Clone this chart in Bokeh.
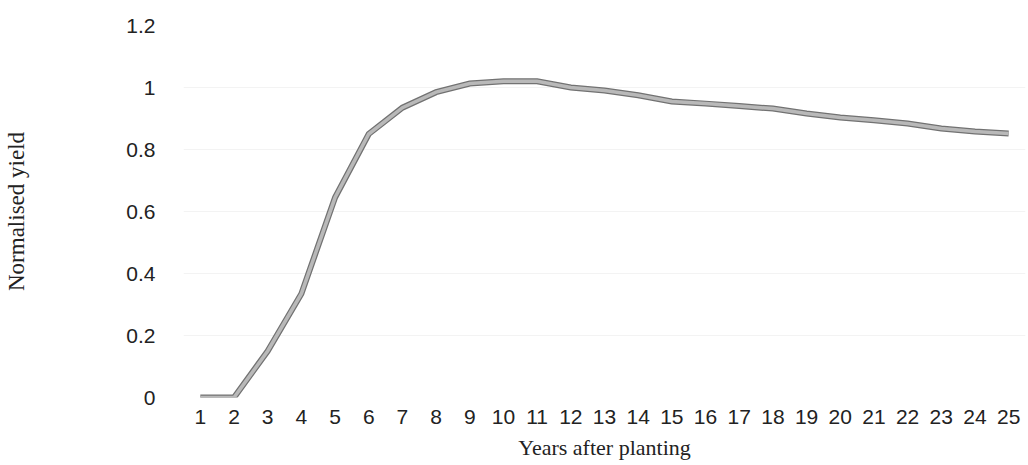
from bokeh.plotting import figure
from bokeh.models import FactorRange, Range1d, FixedTicker
from bokeh.embed import file_html
from bokeh.resources import INLINE

years = [str(i) for i in range(1, 26)]
yields = [0.0, 0.0, 0.15, 0.335, 0.645, 0.85, 0.935, 0.985, 1.013, 1.02,
          1.02, 1.0, 0.99, 0.975, 0.955, 0.948, 0.94, 0.932, 0.916, 0.903,
          0.894, 0.884, 0.868, 0.858, 0.852]
y_ticks = [0, 0.2, 0.4, 0.6, 0.8, 1.0, 1.2]
y_tick_labels = ["0", "0.2", "0.4", "0.6", "0.8", "1", "1.2"]

p = figure(width=1028, height=465, x_range=FactorRange(*years),
           y_range=Range1d(0, 1.2), output_backend="svg",
           toolbar_location=None, min_border_left=183, min_border_right=3,
           min_border_top=25, min_border_bottom=68)
p.outline_line_color = None
p.background_fill_color = "white"
p.border_fill_color = "white"

# faint horizontal gridlines
p.xgrid.grid_line_color = None
p.ygrid.grid_line_color = "#f3f3f3"
p.ygrid.grid_line_width = 1

# axes
p.yaxis.ticker = FixedTicker(ticks=y_ticks)
p.yaxis.major_label_overrides = {t: l for t, l in zip(y_ticks, y_tick_labels)}
for ax in (p.xaxis[0], p.yaxis[0]):
    ax.axis_line_color = None
    ax.major_tick_line_color = None
    ax.minor_tick_line_color = None
    ax.major_label_text_font = "Liberation Sans"
    ax.major_label_text_font_size = "21px"
    ax.major_label_text_color = "#222222"
    ax.axis_label_text_font = "Liberation Serif"
    ax.axis_label_text_font_style = "normal"
    ax.axis_label_text_color = "#222222"

p.xaxis.major_label_standoff = 6
p.xaxis.axis_label = "Years after planting"
p.xaxis.axis_label_text_font_size = "22px"
p.xaxis.axis_label_standoff = 8

p.yaxis.major_label_standoff = 22
p.yaxis.axis_label = "Normalised yield"
p.yaxis.axis_label_text_font_size = "23px"
p.yaxis.axis_label_standoff = 94

# line with dark edge and light grey core
p.line(years, yields, line_width=6, line_color="#727272", line_join="miter")
p.line(years, yields, line_width=3.5, line_color="#b9b9b9", line_join="miter")

open("out.html", "w").write(file_html(p, INLINE))
